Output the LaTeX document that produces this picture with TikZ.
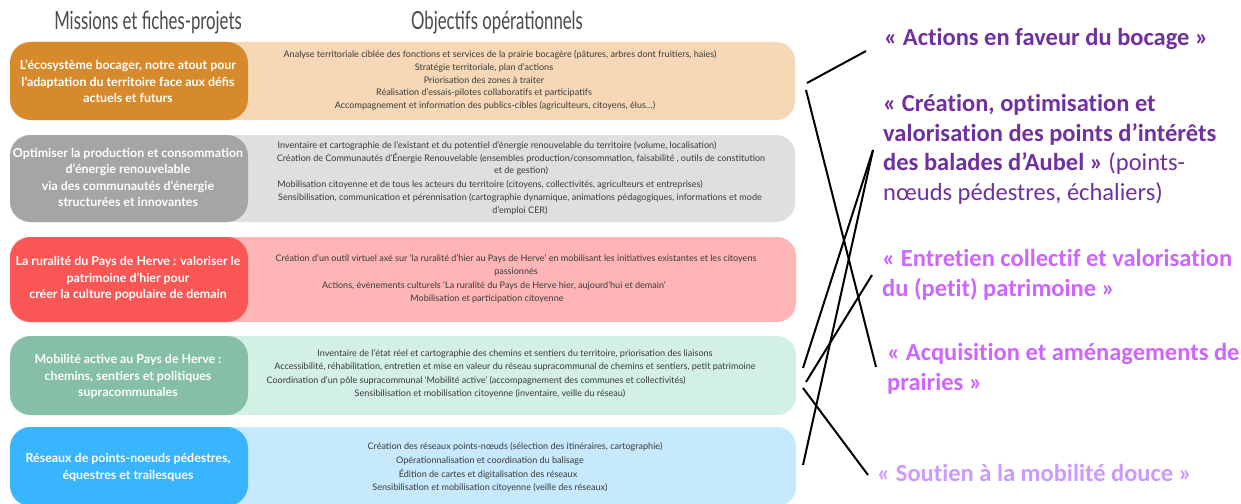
\documentclass[tikz,border=0pt]{standalone}
\usepackage{fontspec}
\setmainfont{Lato}
\newfontfamily\calib[Ligatures={NoCommon}]{Carlito}
\newfontfamily\hdr[FakeStretch=0.67]{Lato}
\definecolor{orD}{HTML}{D68A2B}\definecolor{orL}{HTML}{F6D8B6}
\definecolor{grD}{HTML}{A5A5A5}\definecolor{grL}{HTML}{E1DFDE}
\definecolor{rdD}{HTML}{FA5656}\definecolor{rdL}{HTML}{FFB5B5}
\definecolor{gnD}{HTML}{85BFA7}\definecolor{gnL}{HTML}{D3F0E5}
\definecolor{blD}{HTML}{39B5FD}\definecolor{blL}{HTML}{C6E9FD}
\definecolor{txg}{HTML}{3A3A3A}\definecolor{hdg}{HTML}{4A4A4A}
\definecolor{pA}{HTML}{7030A0}\definecolor{pB}{HTML}{CC66FF}\definecolor{pC}{HTML}{CC99FF}
\tikzset{
  lightbox/.style={rounded corners=19pt},
  darkbox/.style={rounded corners=21pt},
  mtext/.style={text=white, font=\bfseries\fontsize{12.4}{16.5}\selectfont, align=center, inner sep=0},
  otext/.style={text=txg, font=\fontsize{9.05}{12}\selectfont, inner sep=0},
  htext/.style={text=hdg, font=\hdr\fontsize{25}{27}\selectfont, inner sep=0},
  lbl/.style={anchor=base west, font=\calib\bfseries\fontsize{24.5}{29.5}\selectfont, inner sep=0},
  conn/.style={draw=black, line width=2pt}
}
\begin{document}
\begin{tikzpicture}[x=1pt,y=-1pt]
\useasboundingbox (0,0) rectangle (1241,503);
\clip (0,0) rectangle (1241,503);
\fill[white] (0,0) rectangle (1241,503);
% headers
\node[htext] (h1) at (148,23) {Missions et fiches-projets};
\node[htext] (h2) at (497,23) {Objectifs opérationnels};
% row boxes
\fill[orL, lightbox] (10,42) rectangle (795,120);
\fill[orD, darkbox] (10,42) rectangle (248,120);
\fill[grL, lightbox] (10,135) rectangle (795,222);
\fill[grD, darkbox] (10,135) rectangle (248,222);
\fill[rdL, lightbox] (10,237) rectangle (796,322);
\fill[rdD, darkbox] (10,237) rectangle (248,322);
\fill[gnL, lightbox] (10,336) rectangle (796,415);
\fill[gnD, darkbox] (10,336) rectangle (248,415);
\fill[blL, lightbox] (10,427) rectangle (796,506);
\fill[blD, darkbox] (10,427) rectangle (248,506);
% mission texts
\node[mtext] (m1) at (128,81.5) {L’écosystème bocager, notre atout pour\\l’adaptation du territoire face aux défis\\actuels et futurs};
\node[mtext] (m2) at (128,177.5) {Optimiser la production et consommation\\d’énergie renouvelable\\via des communautés d’énergie\\structurées et innovantes};
\node[mtext] (m3) at (128,278.5) {La ruralité du Pays de Herve : valoriser le\\patrimoine d’hier pour\\créer la culture populaire de demain};
\node[mtext] (m4) at (128,376.5) {Mobilité active au Pays de Herve :\\chemins, sentiers et politiques\\supracommunales};
\node[mtext] (m5) at (128,467.5) {Réseaux de points-noeuds pédestres,\\équestres et trailesques};
% objectives row 1
\node[otext] (a1) at (500,55) {Analyse territoriale ciblée des fonctions et services de la prairie bocagère (pâtures, arbres dont fruitiers, haies)};
\node[otext] (a2) at (484,67.5) {Stratégie territoriale, plan d’actions};
\node[otext] (a3) at (484,80) {Priorisation des zones à traiter};
\node[otext] (a4) at (484,92.5) {Réalisation d’essais-pilotes collaboratifs et participatifs};
\node[otext] (a5) at (495,105.5) {Accompagnement et information des publics-cibles (agriculteurs, citoyens, élus…)};
% row 2
\node[otext] (b1) at (497,146) {Inventaire et cartographie de l’existant et du potentiel d’énergie renouvelable du territoire (volume, localisation)};
\node[otext] (b2) at (521,158) {Création de Communautés d’Énergie Renouvelable (ensembles production/consommation, faisabilité , outils de constitution};
\node[otext] (b3) at (521,171) {et de gestion)};
\node[otext] (b4) at (490,185) {Mobilisation citoyenne et de tous les acteurs du territoire (citoyens, collectivités, agriculteurs et entreprises)};
\node[otext] (b5) at (520,198) {Sensibilisation, communication et pérennisation (cartographie dynamique, animations pédagogiques, informations et mode};
\node[otext] (b6) at (520,211) {d’emploi CER)};
% row 3
\node[otext] (c1) at (516,259) {Création d’un outil virtuel axé sur ‘la ruralité d’hier au Pays de Herve’ en mobilisant les initiatives existantes et les citoyens};
\node[otext] (c2) at (516,271.5) {passionnés};
\node[otext] (c3) at (494,286) {Actions, évènements culturels ‘La ruralité du Pays de Herve hier, aujourd’hui et demain’};
\node[otext] (c4) at (487,299) {Mobilisation et participation citoyenne};
% row 4
\node[otext] (d1) at (515,354) {Inventaire de l’état réel et cartographie des chemins et sentiers du territoire, priorisation des liaisons};
\node[otext] (d2) at (515,367) {Accessibilité, réhabilitation, entretien et mise en valeur du réseau supracommunal de chemins et sentiers, petit patrimoine};
\node[otext] (d3) at (476,380.5) {Coordination d’un pôle supracommunal ‘Mobilité active’ (accompagnement des communes et collectivités)};
\node[otext] (d4) at (490,394) {Sensibilisation et mobilisation citoyenne (inventaire, veille du réseau)};
% row 5
\node[otext] (e1) at (515,447) {Création des réseaux points-nœuds (sélection des itinéraires, cartographie)};
\node[otext] (e2) at (490,460.5) {Opérationnalisation et coordination du balisage};
\node[otext] (e3) at (488,474) {Édition de cartes et digitalisation des réseaux};
\node[otext] (e4) at (490,487.5) {Sensibilisation et mobilisation citoyenne (veille des réseaux)};
% right labels
\node[lbl, text=pA] (p1) at (884,46) {«~Actions en faveur du bocage~»};
\node[lbl, text=pA] (p2a) at (883,111.7) {«~Création, optimisation et};
\node[lbl, text=pA] (p2b) at (883,141.5) {valorisation des points d’intérêts};
\node[lbl, text=pA] (p2c) at (883,170.5) {des balades d’Aubel~» {\mdseries(points-}};
\node[lbl, text=pA] (p2d) at (883,200) {\mdseries nœuds pédestres, échaliers)};
\node[lbl, text=pB] (p3a) at (882,266.7) {«~Entretien collectif et valorisation};
\node[lbl, text=pB] (p3b) at (882,296) {du (petit) patrimoine~»};
\node[lbl, text=pB] (p4a) at (887,360) {«~Acquisition et aménagements de};
\node[lbl, text=pB] (p4b) at (887,390) {prairies~»};
\node[lbl, text=pC] (p5) at (877,481.7) {«~Soutien à la mobilité douce~»};
% connector end points
\coordinate (k1a) at (807,83);  \coordinate (k1b) at (866,51);
\coordinate (k2a) at (806,90);  \coordinate (k2b) at (876,367);
\coordinate (k3a) at (873,150); \coordinate (k3b) at (803,368);
\coordinate (k4b) at (803,465);
\coordinate (k5a) at (872,275); \coordinate (k5b) at (806,382);
\coordinate (k6a) at (803,388); \coordinate (k6b) at (868,475);
\draw[conn] (k1a) -- (k1b);
\draw[conn] (k2a) -- (k2b);
\draw[conn] (k3a) -- (k3b);
\draw[conn] (k3a) -- (k4b);
\draw[conn] (k5a) -- (k5b);
\draw[conn] (k6a) -- (k6b);
\end{tikzpicture}
\end{document}
